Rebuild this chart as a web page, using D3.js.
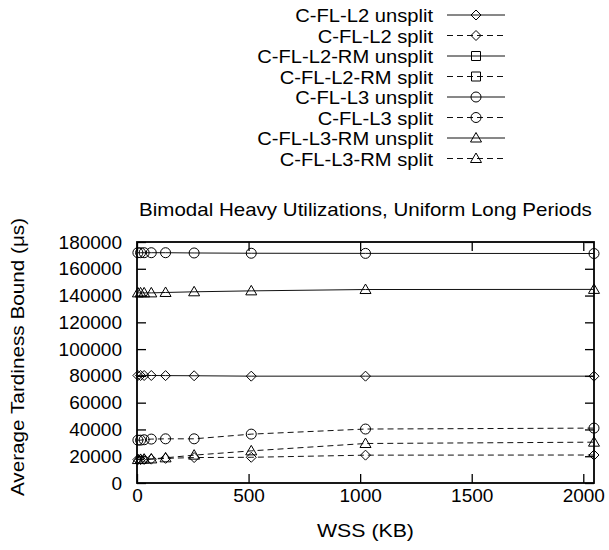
<!DOCTYPE html>
<html>
<head>
<meta charset="utf-8">
<script src="https://cdn.jsdelivr.net/npm/d3@7"></script>
<style>
  html, body { margin: 0; padding: 0; background: #fff; }
  svg { display: block; font-family: "Liberation Sans", Arial, Helvetica, sans-serif; }
</style>
</head>
<body>
<svg id="chart" width="609" height="550"></svg>
<script>
// ---- data ----
const wss = [4, 16, 32, 64, 128, 256, 512, 1024, 2048];
const seriesNames = [
  "C-FL-L2 unsplit", "C-FL-L2 split",
  "C-FL-L2-RM unsplit", "C-FL-L2-RM split",
  "C-FL-L3 unsplit", "C-FL-L3 split",
  "C-FL-L3-RM unsplit", "C-FL-L3-RM split"
];
const l2Unsplit   = [80300, 80300, 80300, 80300, 80200, 80100, 79800, 79800, 79800];
const l2Split     = [17500, 17500, 17600, 17800, 18400, 19000, 19200, 20800, 20900];
const l2rmUnsplit = [];
const l2rmSplit   = [];
const l3Unsplit   = [172000, 172000, 172000, 172000, 172000, 171800, 171600, 171500, 171400];
const l3Split     = [32000, 32000, 32300, 32800, 33000, 33000, 36500, 40300, 41000];
const l3rmUnsplit = [142000, 142000, 142000, 142000, 142300, 142800, 143500, 144500, 144600];
const l3rmSplit   = [17500, 17600, 17800, 18000, 18800, 20800, 24000, 29500, 30500];
const xTicks = [0, 500, 1000, 1500, 2000];
const yTicks = [0, 20000, 40000, 60000, 80000, 100000, 120000, 140000, 160000, 180000];
const titleText = "Bimodal Heavy Utilizations, Uniform Long Periods";
const xLabel = "WSS (KB)";
const yLabel = "Average Tardiness Bound (\u03bcs)";

const seriesValues = [l2Unsplit, l2Split, l2rmUnsplit, l2rmSplit, l3Unsplit, l3Split, l3rmUnsplit, l3rmSplit];
const markerKinds = ["diamond", "diamond", "square", "square", "circle", "circle", "triangle", "triangle"];
const dashed = [false, true, false, true, false, true, false, true];

// ---- layout ----
const svg = d3.select("#chart");
const L = 137, R = 594, T = 242, B = 483;
const x = d3.scaleLinear().domain([0, 2048]).range([L, R]);
const y = d3.scaleLinear().domain([0, 180000]).range([B, T]);
const fs = 19;

function stretch(sel, k) {
  sel.each(function () {
    const w = this.getComputedTextLength();
    d3.select(this).attr("textLength", w * k).attr("lengthAdjust", "spacingAndGlyphs");
  });
}

function markerPath(kind) {
  if (kind === "diamond") return "M0,-5L5,0L0,5L-5,0Z";
  if (kind === "square") return "M-4.5,-4.5H4.5V4.5H-4.5Z";
  if (kind === "circle") return "M-5,0A5,5 0 1,0 5,0A5,5 0 1,0 -5,0Z";
  return "M0,-5.5L5.5,4L-5.5,4Z";
}

// axes (ticks inward, mirrored)
const gx = svg.append("g").attr("transform", `translate(0,${B})`)
  .call(d3.axisBottom(x).tickValues(xTicks).tickSize(-9).tickPadding(6).tickFormat(d3.format("d")));
const gxt = svg.append("g").attr("transform", `translate(0,${T})`)
  .call(d3.axisTop(x).tickValues(xTicks).tickSize(-9).tickFormat(""));
const gy = svg.append("g").attr("transform", `translate(${L},0)`)
  .call(d3.axisLeft(y).tickValues(yTicks).tickSize(-9).tickPadding(15).tickFormat(d3.format("d")));
const gyr = svg.append("g").attr("transform", `translate(${R},0)`)
  .call(d3.axisRight(y).tickValues(yTicks).tickSize(-9).tickFormat(""));
[gx, gxt, gy, gyr].forEach(g => {
  g.select(".domain").remove();
  g.selectAll(".tick line").attr("stroke", "#000").attr("stroke-width", 1.3);
  g.selectAll("text").attr("font-size", fs).attr("fill", "#000").attr("font-family", "Liberation Sans, Arial, sans-serif");
});

// frame
svg.append("rect").attr("x", L).attr("y", T).attr("width", R - L).attr("height", B - T)
  .attr("fill", "none").attr("stroke", "#000").attr("stroke-width", 1.8);

// series lines
const line = d3.line().x((d, i) => x(wss[i])).y(d => y(d));
seriesValues.forEach((vals, s) => {
  if (!vals.length) return;
  svg.append("path").datum(vals).attr("d", line)
    .attr("fill", "none").attr("stroke", "#111").attr("stroke-width", 1)
    .attr("stroke-dasharray", dashed[s] ? "6,4" : null);
  svg.append("g").selectAll("path").data(vals).join("path")
    .attr("d", markerPath(markerKinds[s]))
    .attr("transform", (d, i) => `translate(${x(wss[i])},${y(d)})`)
    .attr("fill", "none").attr("stroke", "#000").attr("stroke-width", 1);
});

// title & labels
svg.append("text").attr("x", (L + R) / 2).attr("y", 216).attr("text-anchor", "middle")
  .attr("font-size", fs).text(titleText).call(stretch, 1.08);
svg.append("text").attr("x", (L + R) / 2).attr("y", 537).attr("text-anchor", "middle")
  .attr("font-size", fs).text(xLabel).call(stretch, 1.12);
svg.append("text").attr("transform", `translate(24,357) rotate(-90)`)
  .attr("text-anchor", "middle").attr("font-size", fs).text(yLabel).call(stretch, 1.09);

// legend
const legY0 = 15, legDy = 20.5;
const lg = svg.append("g");
seriesNames.forEach((name, s) => {
  const yy = legY0 + s * legDy;
  lg.append("text").attr("x", 433).attr("y", yy + 7).attr("text-anchor", "end")
    .attr("font-size", fs).text(name).call(stretch, 1.06);
  lg.append("line").attr("x1", 447).attr("x2", 505).attr("y1", yy).attr("y2", yy)
    .attr("stroke", "#111").attr("stroke-width", 1)
    .attr("stroke-dasharray", dashed[s] ? "6,4" : null);
  lg.append("path").attr("d", markerPath(markerKinds[s]))
    .attr("transform", `translate(476,${yy})`)
    .attr("fill", "none").attr("stroke", "#000").attr("stroke-width", 1);
});
</script>
</body>
</html>
